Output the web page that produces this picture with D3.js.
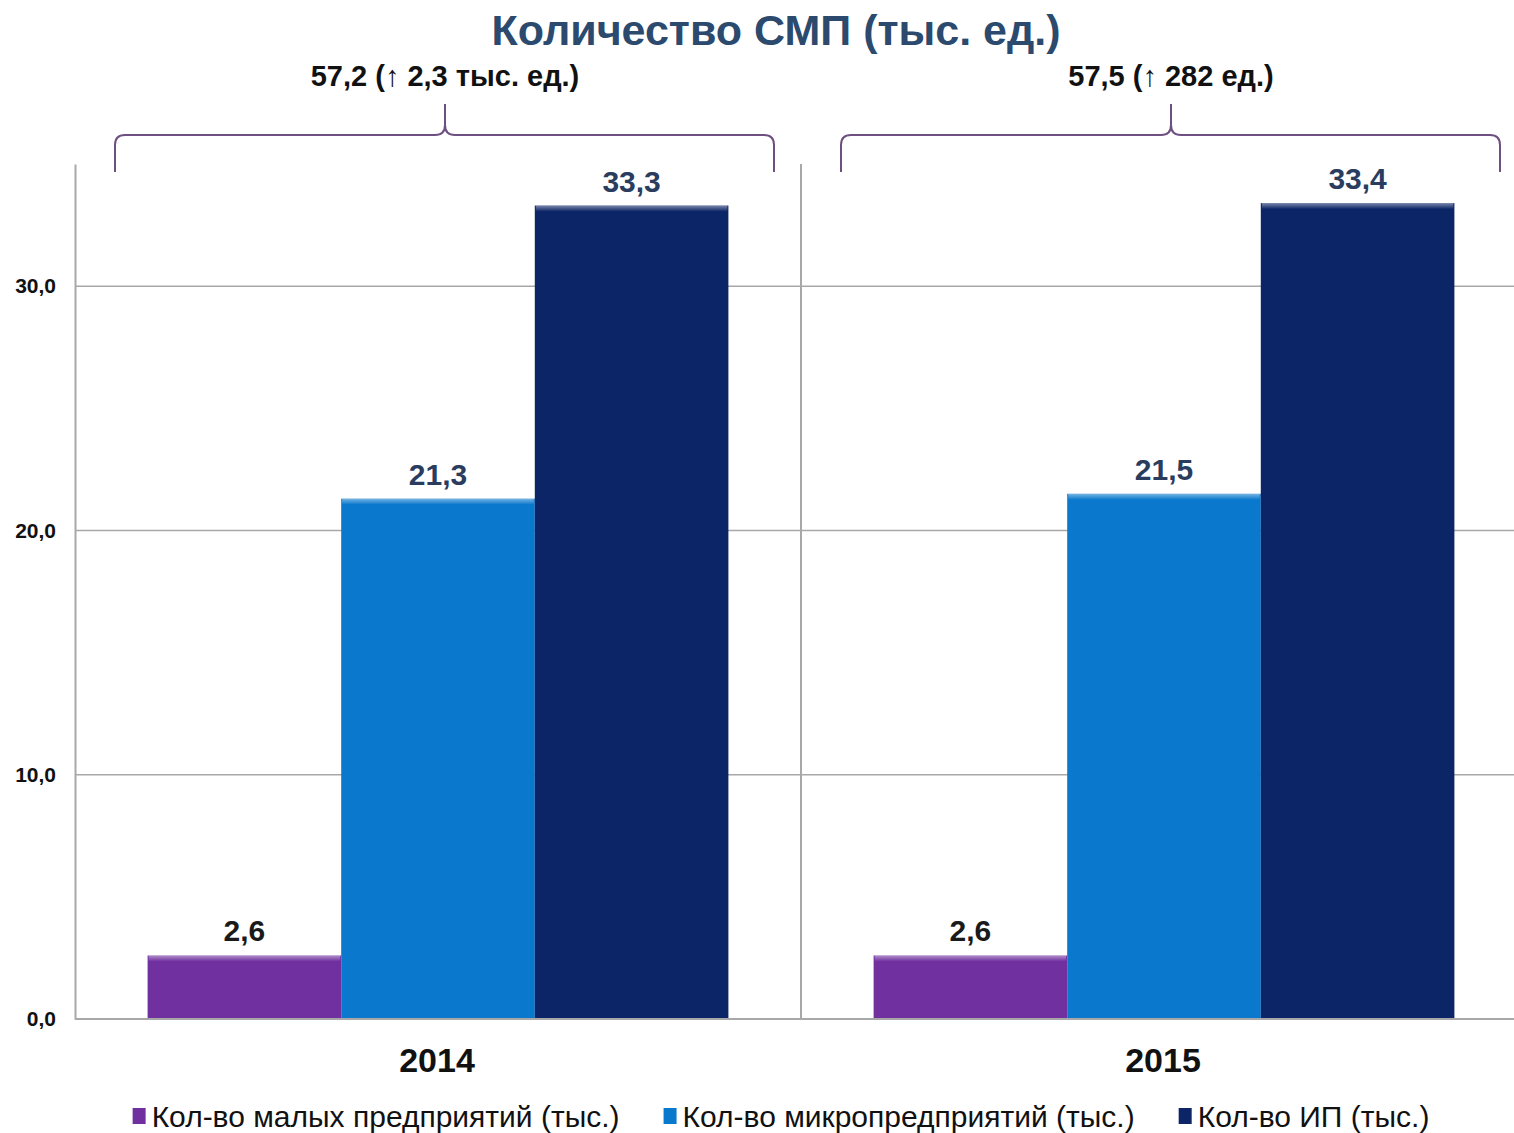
<!DOCTYPE html>
<html>
<head>
<meta charset="utf-8">
<script src="https://cdn.jsdelivr.net/npm/d3@7"></script>
<style>
  body { margin: 0; background: #fff; }
  text { font-family: "Liberation Sans", Arial, sans-serif; }
</style>
</head>
<body>
<div id="chart"></div>
<script>
// chart data
let years = ['2014', '2015'];
let seriesNames = ['Кол-во малых предприятий (тыс.)', 'Кол-во микропредприятий (тыс.)', 'Кол-во ИП (тыс.)'];
let small = [2.6, 2.6];
let micro = [21.3, 21.5];
let ip = [33.3, 33.4];
let totals = ['57,2 (↑ 2,3 тыс. ед.)', '57,5 (↑ 282 ед.)'];
let yTicks = [0, 10, 20, 30];

let colors = ['#7030a0', '#0a78cc', '#0b2566'];
let labelColors = ['#1a1a1a', '#2a3d5f', '#2a3d5f'];

let width = 1514, height = 1133;
let margin = {top: 164, left: 75};

let svg = d3.select('#chart')
  .append('svg')
    .attr('width', width)
    .attr('height', height);

// scales
let x0 = d3.scaleBand()
  .domain(years)
  .range([margin.left, margin.left + 726 * 2]);

let x1 = d3.scaleBand()
  .domain(d3.range(3))
  .range([0, x0.bandwidth()])
  .paddingOuter(0.375);

let y = d3.scaleLinear()
  .domain([0, 35])
  .range([1019, margin.top]);

// title
svg.append('text')
  .attr('x', 776)
  .attr('y', 45)
  .attr('text-anchor', 'middle')
  .style('font-size', '43px')
  .style('font-weight', 'bold')
  .style('fill', '#2b4a6e')
  .text('Количество СМП (тыс. ед.)');

// gridlines
svg.append('g')
  .selectAll('line')
  .data(yTicks.filter(d => d > 0))
  .enter()
  .append('line')
    .attr('x1', margin.left)
    .attr('x2', width)
    .attr('y1', d => y(d))
    .attr('y2', d => y(d))
    .style('stroke', '#a8a8a8')
    .style('stroke-width', 1.5);

// y axis
let yAxis = svg.append('g')
  .attr('transform', 'translate(' + margin.left + ',0)')
  .call(d3.axisLeft(y).tickValues(yTicks).tickSize(0).tickPadding(19)
    .tickFormat(d => d3.format('.1f')(d).replace('.', ',')));
yAxis.select('.domain').style('stroke', '#a8a8a8').style('stroke-width', 2);
yAxis.selectAll('text')
  .style('font-size', '21px')
  .style('font-weight', 'bold')
  .style('fill', '#111')
  .style('font-family', '"Liberation Sans", Arial, sans-serif');

// category divider
svg.append('line')
  .attr('x1', x0('2015'))
  .attr('x2', x0('2015'))
  .attr('y1', y(35))
  .attr('y2', y(0))
  .style('stroke', '#a8a8a8')
  .style('stroke-width', 2);

// bar data
let barData = [];
years.forEach((yr, i) => {
  [small[i], micro[i], ip[i]].forEach((v, j) => {
    barData.push({year: yr, s: j, value: v});
  });
});

let defs = svg.append('defs');
let bevel = defs.append('linearGradient')
  .attr('id', 'bevel')
  .attr('x1', 0).attr('x2', 0).attr('y1', 0).attr('y2', 1);
bevel.append('stop').attr('offset', '0%').attr('stop-color', '#fff').attr('stop-opacity', 0.45);
bevel.append('stop').attr('offset', '100%').attr('stop-color', '#fff').attr('stop-opacity', 0);

let bars = svg.append('g')
  .selectAll('g')
  .data(barData)
  .enter()
  .append('g');

bars.append('rect')
  .attr('x', d => x0(d.year) + x1(d.s))
  .attr('y', d => y(d.value))
  .attr('width', x1.bandwidth())
  .attr('height', d => y(0) - y(d.value))
  .style('fill', d => colors[d.s]);

// bevel edges on top of bars
bars.append('rect')
  .attr('x', d => x0(d.year) + x1(d.s) + 1)
  .attr('y', d => y(d.value))
  .attr('width', x1.bandwidth() - 2)
  .attr('height', 6)
  .style('fill', 'url(#bevel)');

bars.append('text')
  .attr('x', d => x0(d.year) + x1(d.s) + x1.bandwidth() / 2)
  .attr('y', d => y(d.value) - 14)
  .attr('text-anchor', 'middle')
  .style('font-size', '30px')
  .style('font-weight', 'bold')
  .style('fill', d => labelColors[d.s])
  .text(d => d3.format('.1f')(d.value).replace('.', ','));

// baseline
svg.append('line')
  .attr('x1', margin.left)
  .attr('x2', width)
  .attr('y1', y(0))
  .attr('y2', y(0))
  .style('stroke', '#a8a8a8')
  .style('stroke-width', 2);

// category labels
svg.append('g')
  .selectAll('text')
  .data(years)
  .enter()
  .append('text')
    .attr('x', d => x0(d) + 362)
    .attr('y', 1072)
    .attr('text-anchor', 'middle')
    .style('font-size', '34px')
    .style('font-weight', 'bold')
    .style('fill', '#111')
    .text(d => d);

// curly braces over each year with totals
function brace(x1b, x2b, tip) {
  let top = 135, bottom = 172, r = 10;
  return 'M' + x1b + ',' + bottom +
    ' L' + x1b + ',' + (top + r) +
    ' Q' + x1b + ',' + top + ' ' + (x1b + r) + ',' + top +
    ' L' + (tip - r) + ',' + top +
    ' Q' + tip + ',' + top + ' ' + tip + ',' + (top - r) +
    ' L' + tip + ',' + 104 +
    ' M' + tip + ',' + (top - r) +
    ' Q' + tip + ',' + top + ' ' + (tip + r) + ',' + top +
    ' L' + (x2b - r) + ',' + top +
    ' Q' + x2b + ',' + top + ' ' + x2b + ',' + (top + r) +
    ' L' + x2b + ',' + bottom;
}

years.forEach((yr, i) => {
  let left = x0(yr) + 40, right = x0(yr) + 699, tip = x0(yr) + 370;
  svg.append('path')
    .attr('d', brace(left, right, tip))
    .style('fill', 'none')
    .style('stroke', '#6e4f82')
    .style('stroke-width', 2);
  svg.append('text')
    .attr('x', tip)
    .attr('y', 86)
    .attr('text-anchor', 'middle')
    .style('font-size', '29px')
    .style('font-weight', 'bold')
    .style('fill', '#111')
    .text(totals[i]);
});

// legend
let legend = svg.append('g');
let items = legend.selectAll('g')
  .data(seriesNames)
  .enter()
  .append('g');
items.append('rect')
  .attr('width', 13)
  .attr('height', 16)
  .attr('y', -19)
  .style('fill', (d, i) => colors[i]);
items.append('text')
  .attr('x', 19)
  .style('font-size', '30px')
  .style('fill', '#111')
  .text(d => d);

let pos = 0, offsets = [];
items.each(function(d) {
  offsets.push(pos);
  pos += 19 + this.querySelector('text').getComputedTextLength() + 44;
});
let totalW = pos - 44;
let startX = 781 - totalW / 2;
items.attr('transform', (d, i) => 'translate(' + (startX + offsets[i]) + ',1127)');
</script>
</body>
</html>
